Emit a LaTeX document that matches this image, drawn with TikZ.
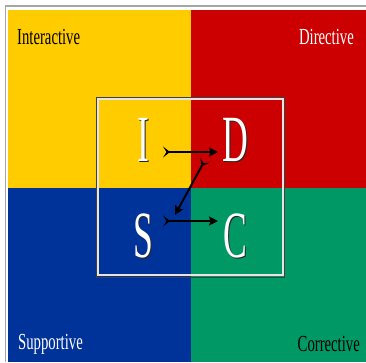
\documentclass[tikz,border=0pt]{standalone}
\usepackage{fontspec}
\usetikzlibrary{arrows.meta,calc}
\newfontfamily\labelserif[FakeStretch=0.64]{Liberation Serif}
\newfontfamily\letterserif[FakeStretch=0.54]{Liberation Serif}
\definecolor{quadyellow}{RGB}{255,204,0}
\definecolor{quadred}{RGB}{204,0,0}
\definecolor{quadblue}{RGB}{0,51,153}
\definecolor{quadgreen}{RGB}{0,153,102}
\tikzset{
  quadlabel/.style={inner sep=0pt, font=\labelserif\fontsize{23}{23}\selectfont},
  bigletter/.style={inner sep=0pt, anchor=base, text=white, font=\letterserif\fontsize{66}{66}\selectfont},
  lettershadow/.style={inner sep=0pt, anchor=base, text=black!85, font=\letterserif\fontsize{66}{66}\selectfont},
  flow/.style={draw=black, line width=2pt,
    {Stealth[reversed,length=7pt,width=11pt,inset=3.5pt]}-{Stealth[length=9pt,width=9pt,inset=1.5pt]}}
}
\begin{document}
\begin{tikzpicture}[x=1pt,y=-1pt]
\useasboundingbox (0,0) rectangle (366,362);
\fill[white] (0,0) rectangle (366,362);
% frame lines
\draw[gray!70, line width=1.5pt] (5.5,362) -- (5.5,6) -- (366,6);
% quadrants
\fill[quadyellow] (8,10) rectangle (190.5,188);
\fill[quadred] (190.5,10) rectangle (366,188);
\fill[quadblue] (8,188) rectangle (190.5,362);
\fill[quadgreen] (190.5,188) rectangle (366,362);
% quadrant labels
\node[quadlabel, anchor=base west, text=black] (lint) at (17,44) {Interactive};
\node[quadlabel, anchor=base east, text=white] (ldir) at (354,44) {Directive};
\node[quadlabel, anchor=base west, text=white] (lsup) at (18,349) {Supportive};
\node[quadlabel, anchor=base east, text=black] (lcor) at (360,351) {Corrective};
% inner frame
\draw[black!75, line width=1pt] (96,97) rectangle (284.5,277);
\draw[gray!20, line width=2pt] (98,99) rectangle (282.5,275);
% letters with shadows
\node[lettershadow] at (144.5,162.5) {I};
\node[lettershadow] at (236.5,162.5) {D};
\node[lettershadow] at (144.5,258.5) {S};
\node[lettershadow] at (236.5,258.5) {C};
\node[bigletter] (I) at (143,161) {I};
\node[bigletter] (D) at (235,161) {D};
\node[bigletter] (S) at (143,257) {S};
\node[bigletter] (C) at (235,257) {C};
% arrows
\draw[flow] ($(I.base)+(20,-9)$) -- ($(D.base)+(-17,-9)$);
\draw[flow] ($(D.base)+(-30,-1)$) -- ($(S.base)+(32,-42)$);
\draw[flow] ($(S.base)+(20,-36)$) -- ($(C.base)+(-17,-36)$);
\end{tikzpicture}
\end{document}
